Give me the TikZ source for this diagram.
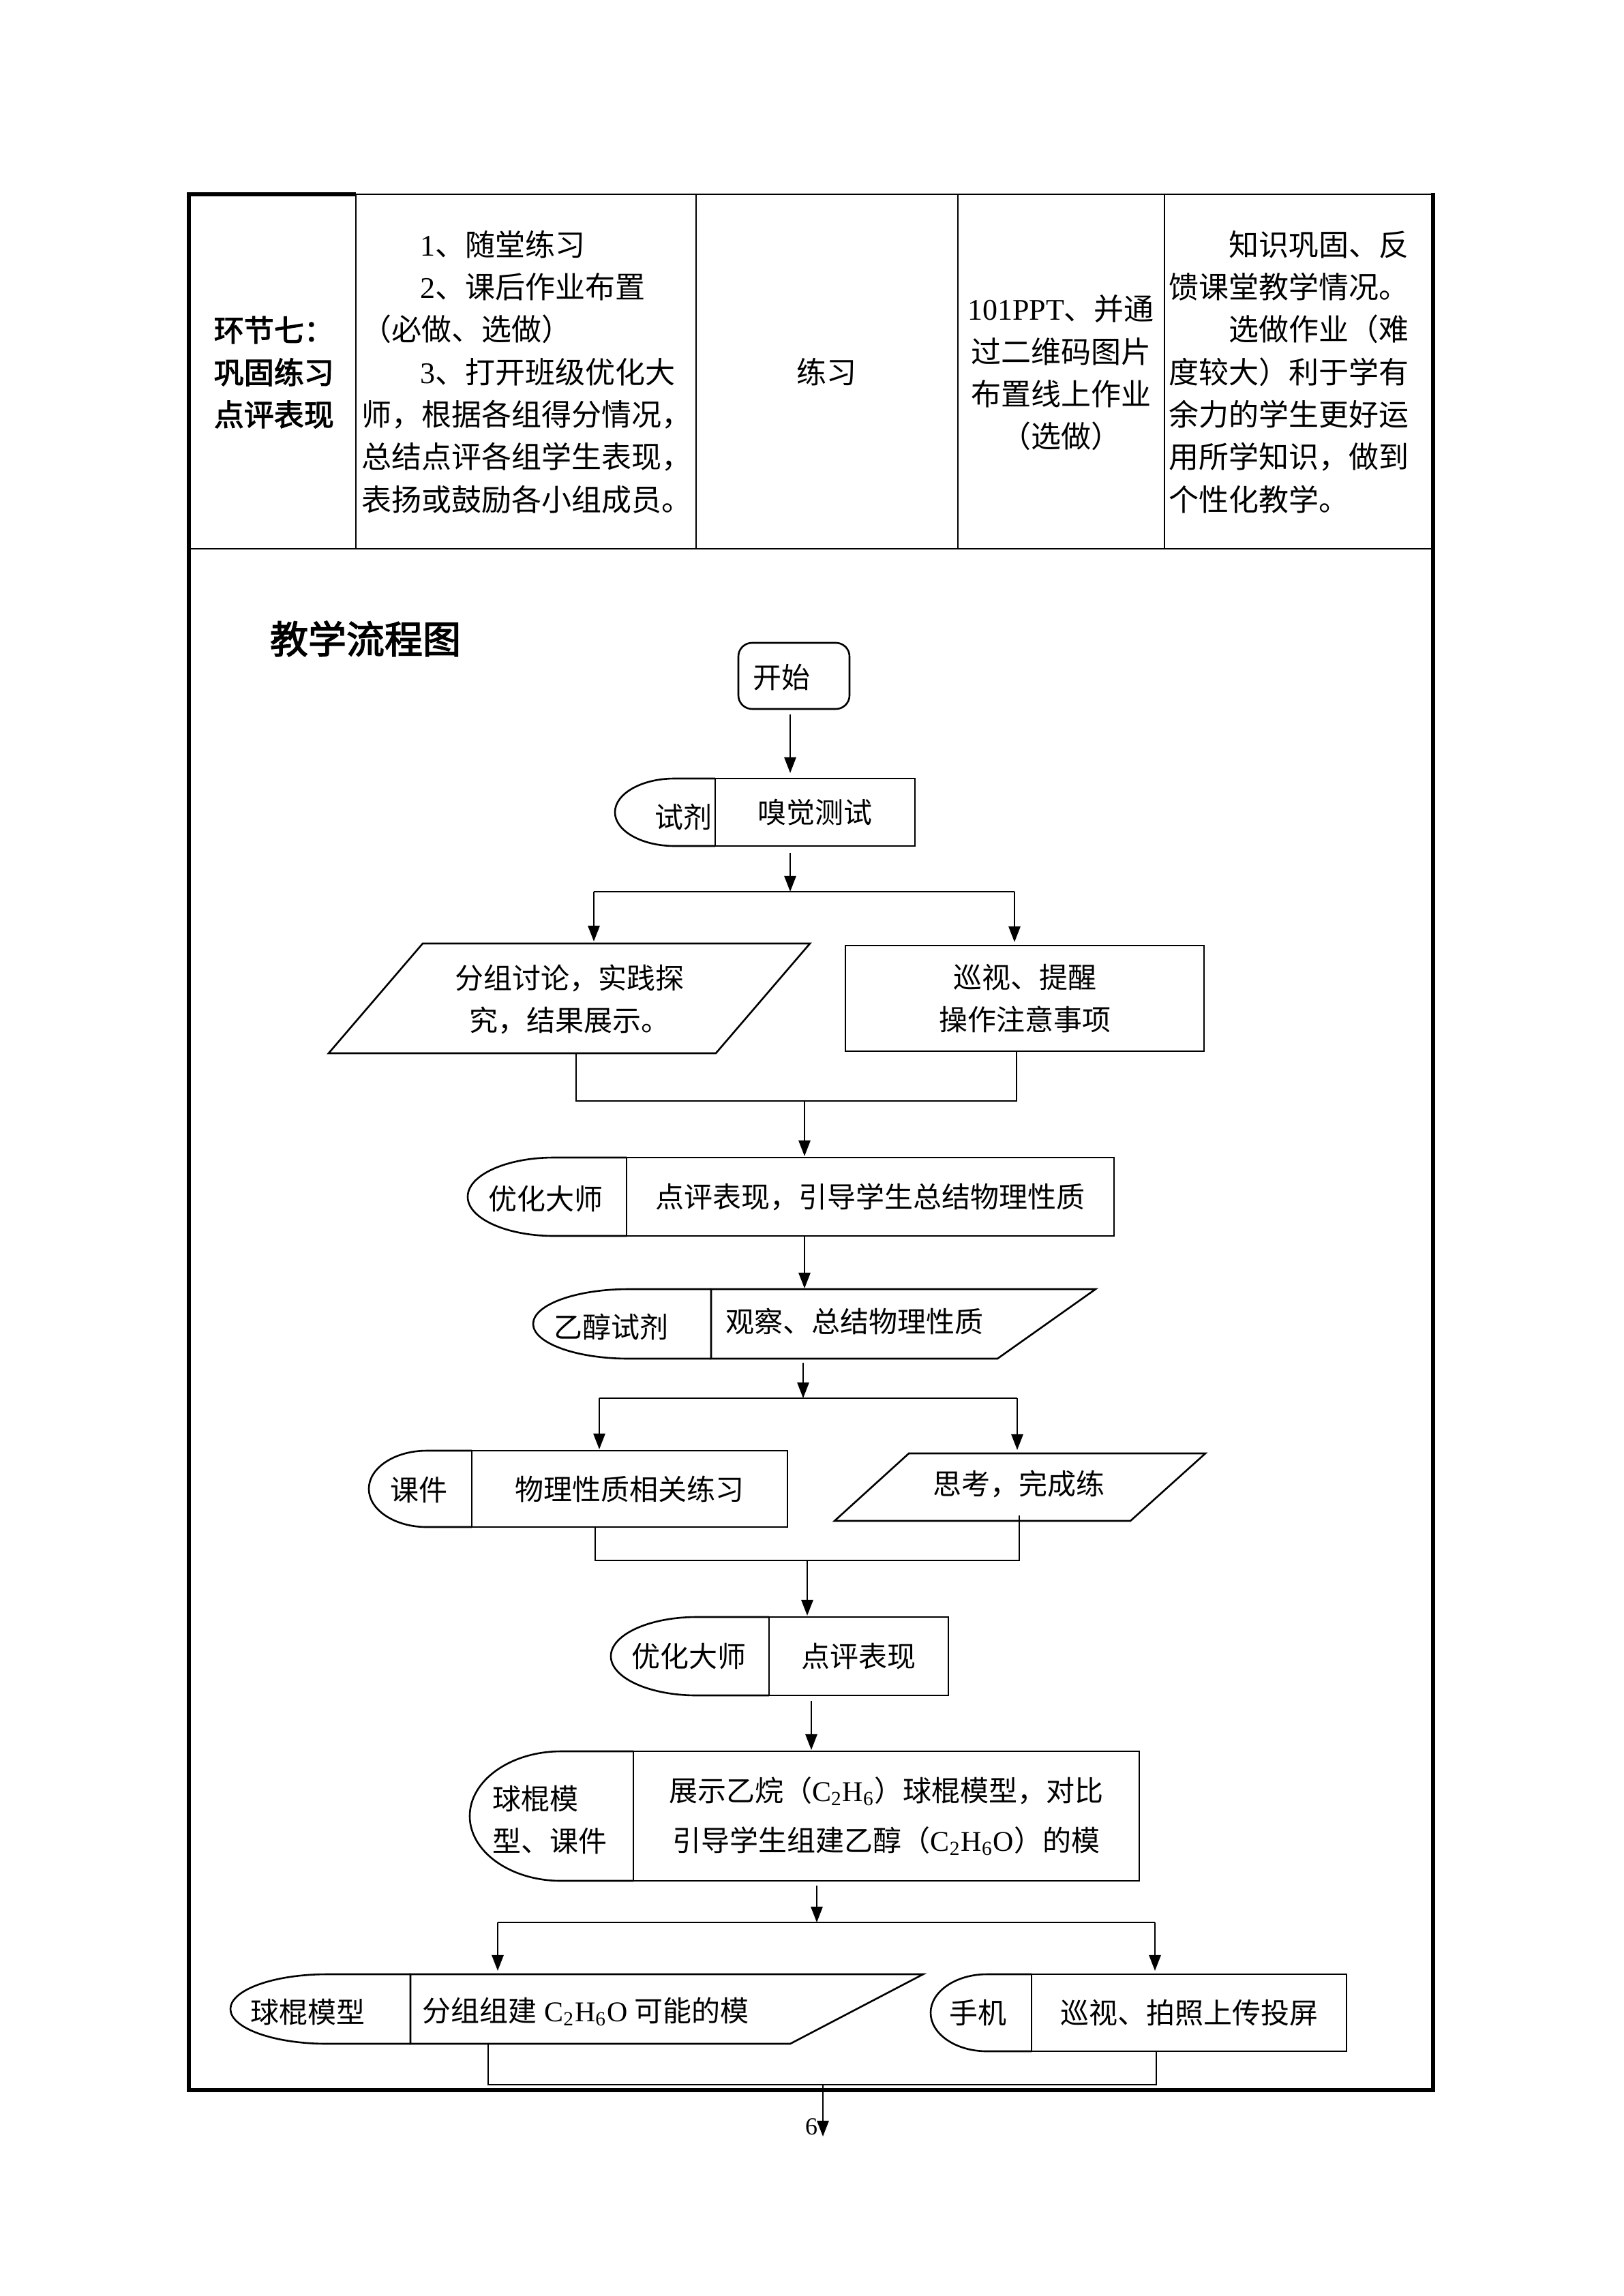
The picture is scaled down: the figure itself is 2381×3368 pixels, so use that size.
\documentclass[tikz,border=0pt]{standalone}
\usepackage{fontspec}
\setmainfont{Liberation Serif}
\newfontfamily\cjk{Noto Sans CJK SC}
\newfontfamily\cjkb[FakeBold=2.5]{Noto Sans CJK SC}
\newfontfamily\lat{Liberation Serif}
\usetikzlibrary{arrows.meta}
\begin{document}
\begin{tikzpicture}[x=0.25pt,y=-0.25pt,
  txt/.style={inner sep=0pt, font=\cjk\fontsize{10.5pt}{15.5pt}\selectfont},
  tabtxt/.style={inner sep=0pt, font=\cjk\fontsize{11pt}{15.5pt}\selectfont},
  boldtxt/.style={inner sep=0pt, font=\cjkb\fontsize{11pt}{15.5pt}\selectfont},
  box/.style={draw, line width=0.65pt, inner sep=0pt, align=center, txt},
  fl/.style={line width=0.65pt},
  arr/.style={line width=0.65pt, -{Triangle[length=5.8pt,width=4.3pt]}},
  tin/.style={line width=0.4pt},
  tk/.style={line width=1.5pt},
]
\useasboundingbox (0,0) rectangle (2381,3368);
\fill[white] (0,0) rectangle (2381,3368);

% ---------------- table ----------------
\draw[tin] (522,285) -- (2102,285);
\draw[tk] (275,285) -- (522,285);
\draw[tk] (277,282) -- (277,3069);
\draw[tk] (2102,283) -- (2102,3069);
\draw[tk] (277,3066) -- (2102,3066);
\draw[tin] (277,805) -- (2102,805);
\foreach \cx in {522,1021,1405,1708} \draw[tin] (\cx,285) -- (\cx,805);

% column 1
\node[boldtxt,anchor=west] (c11) at (313,484) {环节七：};
\node[boldtxt,anchor=west] (c12) at (313,546) {巩固练习};
\node[boldtxt,anchor=west] (c13) at (313,608) {点评表现};
% column 2
\node[tabtxt,anchor=west] (c21) at (616,359) {{\lat 1}、随堂练习};
\node[tabtxt,anchor=west] (c22) at (616,421) {{\lat 2}、课后作业布置};
\node[tabtxt,anchor=west] (c23) at (530,483) {（必做、选做）};
\node[tabtxt,anchor=west] (c24) at (616,546) {{\lat 3}、打开班级优化大};
\node[tabtxt,anchor=west] (c25) at (530,608) {师，根据各组得分情况，};
\node[tabtxt,anchor=west] (c26) at (530,670) {总结点评各组学生表现，};
\node[tabtxt,anchor=west] (c27) at (530,733) {表扬或鼓励各小组成员。};
% column 3
\node[tabtxt] (c31) at (1212,546) {练习};
% column 4
\node[tabtxt] (c41) at (1556,453) {{\lat 101PPT}、并通};
\node[tabtxt] (c42) at (1556,516) {过二维码图片};
\node[tabtxt] (c43) at (1556,578) {布置线上作业};
\node[tabtxt] (c44) at (1556,640) {（选做）};
% column 5
\node[tabtxt,anchor=west] (c51) at (1802,359) {知识巩固、反};
\node[tabtxt,anchor=west] (c52) at (1714,421) {馈课堂教学情况。};
\node[tabtxt,anchor=west] (c53) at (1802,483) {选做作业（难};
\node[tabtxt,anchor=west] (c54) at (1714,546) {度较大）利于学有};
\node[tabtxt,anchor=west] (c55) at (1714,608) {余力的学生更好运};
\node[tabtxt,anchor=west] (c56) at (1714,670) {用所学知识，做到};
\node[tabtxt,anchor=west] (c57) at (1714,733) {个性化教学。};

% ---------------- flow chart ----------------
\node[inner sep=0pt, font=\cjkb\fontsize{14pt}{16pt}\selectfont] (title) at (536,937) {教学流程图};

% start
\node[draw, line width=0.65pt, rounded corners=5pt, minimum width=40.75pt, minimum height=24.25pt, inner sep=0pt] (start) at (1164.5,991.5) {};
\node[txt] (starttxt) at (1146,994) {开始};

% 试剂 / 嗅觉测试
\draw[fl] (1049,1142) -- (989.5,1142) arc[start angle=90, end angle=270, x radius=21.875pt, y radius=12.375pt] -- (1049,1241);
\node[box, fill=white, minimum width=73.25pt, minimum height=24.75pt] (b1) at (1195.5,1191.5) {嗅觉测试};
\node[txt] (d1) at (1002,1198) {试剂};

% parallelogram 分组讨论
\draw[fl] (620,1384) -- (1188,1384) -- (1050,1545) -- (482,1545) -- cycle;
\node[txt, align=center] (p1) at (835,1466) {分组讨论，实践探\\究，结果展示。};

% 巡视、提醒
\node[box, minimum width=131.5pt, minimum height=38.75pt] (b2) at (1503,1464.5) {巡视、提醒\\操作注意事项};

% 优化大师 / 点评表现，引导...
\draw[fl] (919,1698) -- (812.5,1698) arc[start angle=90, end angle=270, x radius=31.625pt, y radius=14.375pt] -- (919,1813);
\node[box, fill=white, minimum width=178.75pt, minimum height=28.75pt] (b3) at (1276.5,1755.5) {点评表现，引导学生总结物理性质};
\node[txt] (d3) at (800,1759) {优化大师};

% 乙醇试剂 / 观察
\draw[fl] (1043,1891) -- (922.5,1891) arc[start angle=90, end angle=270, x radius=35.125pt, y radius=12.75pt] -- (1043,1993);
\draw[fl] (1043,1891) -- (1607,1891) -- (1463,1993) -- (1043,1993) -- cycle;
\node[txt] (d4) at (896,1946) {乙醇试剂};
\node[txt,anchor=west] (p2) at (1064,1938) {观察、总结物理性质};

% 课件 / 物理性质相关练习
\draw[fl] (692,2128) -- (626,2128) arc[start angle=90, end angle=270, x radius=21.25pt, y radius=14pt] -- (692,2240);
\node[box, fill=white, minimum width=115.75pt, minimum height=28pt] (b4) at (923.5,2184) {物理性质相关练习};
\node[txt] (d5) at (614,2186) {课件};

% 思考
\draw[fl] (1333,2132) -- (1768,2132) -- (1658,2231) -- (1224,2231) -- cycle;
\node[txt] (p3) at (1494,2177) {思考，完成练};

% 优化大师 / 点评表现
\draw[fl] (1128,2372) -- (1022,2372) arc[start angle=90, end angle=270, x radius=31.5pt, y radius=14.375pt] -- (1128,2487);
\node[box, fill=white, minimum width=65.75pt, minimum height=28.75pt] (b5) at (1259.5,2429.5) {点评表现};
\node[txt] (d6) at (1010,2430) {优化大师};

% 球棍模型、课件 / 展示
\draw[fl] (929,2569) -- (823,2569) arc[start angle=90, end angle=270, x radius=33.5pt, y radius=23.75pt] -- (929,2759);
\node[box, fill=white, minimum width=185.5pt, minimum height=47.5pt, font=\cjk\fontsize{10.5pt}{18.25pt}\selectfont] (b6) at (1300,2664) {展示乙烷（{\lat C\textsubscript{2}H\textsubscript{6}}）球棍模型，对比\\引导学生组建乙醇（{\lat C\textsubscript{2}H\textsubscript{6}O}）的模};
\node[txt,anchor=west] (d7a) at (722,2639) {球棍模};
\node[txt,anchor=west] (d7b) at (722,2701) {型、课件};

% 球棍模型 / 分组组建
\draw[fl] (602,2896) -- (480,2896) arc[start angle=90, end angle=270, x radius=35.5pt, y radius=12.75pt] -- (602,2998);
\draw[fl] (602,2896) -- (1354,2896) -- (1159,2998) -- (602,2998) -- cycle;
\node[txt] (d8) at (451,2952) {球棍模型};
\node[txt,anchor=west] (p4) at (619,2951) {分组组建{\lat\ C\textsubscript{2}H\textsubscript{6}O }可能的模};

% 手机 / 巡视、拍照上传投屏
\draw[fl] (1513,2896) -- (1447.5,2896) arc[start angle=90, end angle=270, x radius=20.625pt, y radius=14.125pt] -- (1513,3009);
\node[box, fill=white, minimum width=115.5pt, minimum height=28.25pt] (b7) at (1744,2952.5) {巡视、拍照上传投屏};
\node[txt] (d9) at (1434,2953) {手机};

% page number
\node[inner sep=0pt, font=\lat\fontsize{9pt}{10pt}\selectfont] (pg) at (1190,3120) {6};

% ---------------- connectors ----------------
\coordinate (a1s) at (1159,1048); \coordinate (a1e) at (1159,1134);
\draw[arr] (a1s) -- (a1e);

\coordinate (a2s) at (1159,1251); \coordinate (a2e) at (1159,1308);
\coordinate (s1l) at (871,1308); \coordinate (s1r) at (1488,1308);
\coordinate (s1le) at (871,1381); \coordinate (s1re) at (1488,1382);
\draw[arr] (a2s) -- (a2e);
\draw[fl] (s1l) -- (s1r);
\draw[arr] (s1l) -- (s1le);
\draw[arr] (s1r) -- (s1re);

\coordinate (m1a) at (845,1545); \coordinate (m1b) at (845,1615);
\coordinate (m1c) at (1491,1615); \coordinate (m1d) at (1491,1542);
\draw[fl] (m1a) -- (m1b) -- (m1c) -- (m1d);
\coordinate (a3s) at (1180,1615); \coordinate (a3e) at (1180,1696);
\draw[arr] (a3s) -- (a3e);

\coordinate (a4s) at (1180,1813); \coordinate (a4e) at (1180,1890);
\draw[arr] (a4s) -- (a4e);

\coordinate (a5s) at (1178,1999); \coordinate (a5e) at (1178,2051);
\coordinate (s2l) at (879,2051); \coordinate (s2r) at (1492,2051);
\coordinate (s2le) at (879,2126); \coordinate (s2re) at (1492,2127);
\draw[arr] (a5s) -- (a5e);
\draw[fl] (s2l) -- (s2r);
\draw[arr] (s2l) -- (s2le);
\draw[arr] (s2r) -- (s2re);

\coordinate (m2a) at (873,2240); \coordinate (m2b) at (873,2289);
\coordinate (m2c) at (1495,2289); \coordinate (m2d) at (1495,2223);
\draw[fl] (m2a) -- (m2b) -- (m2c) -- (m2d);
\coordinate (a6s) at (1184,2289); \coordinate (a6e) at (1184,2370);
\draw[arr] (a6s) -- (a6e);

\coordinate (a7s) at (1190,2495); \coordinate (a7e) at (1190,2567);
\draw[arr] (a7s) -- (a7e);

\coordinate (a8s) at (1198,2766); \coordinate (a8e) at (1198,2820);
\coordinate (s3l) at (730,2820); \coordinate (s3r) at (1694,2820);
\coordinate (s3le) at (730,2891); \coordinate (s3re) at (1694,2891);
\draw[arr] (a8s) -- (a8e);
\draw[fl] (s3l) -- (s3r);
\draw[arr] (s3l) -- (s3le);
\draw[arr] (s3r) -- (s3re);

\coordinate (m3a) at (716,2998); \coordinate (m3b) at (716,3058);
\coordinate (m3c) at (1696,3058); \coordinate (m3d) at (1696,3009);
\draw[fl] (m3a) -- (m3b) -- (m3c) -- (m3d);
\coordinate (a9s) at (1207,3058); \coordinate (a9e) at (1207,3134);
\draw[arr] (a9s) -- (a9e);
\end{tikzpicture}
\end{document}
